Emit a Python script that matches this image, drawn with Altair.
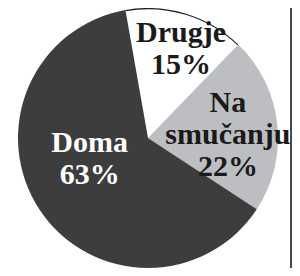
import math
import altair as alt
import pandas as pd

# ---- data ----
categories = ["Drugje", "Na smučanju", "Doma"]
shares = [15, 22, 63]

# ---- style / layout ----
fills = ["#ffffff", "#bdbec1", "#3d3d3d"]
text_colors = ["#1a1a1a", "#1a1a1a", "#ffffff"]
W, H = 284, 260
CX, CY = 140, 130
R = 130
START = math.radians(-10)
label_shift_deg = {"Drugje": 2.0, "Na smučanju": -11.6, "Doma": 19.8}
label_radius = {"Drugje": 101.5, "Na smučanju": 84, "Doma": 60}

labels = ["\n".join(c.split(" ") + [f"{s}%"]) for c, s in zip(categories, shares)]
df = pd.DataFrame({"cat": categories, "share": shares,
                   "idx": list(range(len(categories))), "label": labels})


def cat_expr(mapping, default=0):
    expr = str(default)
    for k, v in mapping.items():
        expr = f"(datum.cat === '{k}' ? {v} : {expr})"
    return expr


shift_expr = cat_expr({k: math.radians(v) for k, v in label_shift_deg.items()})
radius_expr = cat_expr(label_radius)

theta_scale = alt.Scale(range=[START, START + 2 * math.pi])

base = alt.Chart(df)

pie = base.mark_arc(radius=R).encode(
    theta=alt.Theta("share:Q", stack=True, scale=theta_scale),
    order=alt.Order("idx:Q"),
    color=alt.Color("cat:N", scale=alt.Scale(domain=categories, range=fills), legend=None),
    x=alt.value(CX),
    y=alt.value(CY),
)

rim = base.mark_arc(radius=R, radius2=R - 1.2).encode(
    theta=alt.Theta("share:Q", stack=True, scale=theta_scale),
    order=alt.Order("idx:Q"),
    color=alt.condition("datum.cat === 'Drugje'", alt.value("#222222"), alt.value("transparent")),
    x=alt.value(CX),
    y=alt.value(CY),
)

text = (
    base.transform_window(cum="sum(share)", sort=[alt.SortField("idx")], frame=[None, 0])
    .transform_joinaggregate(total="sum(share)")
    .transform_calculate(
        labA=f"{START} + 2*PI*(datum.cum - datum.share/2)/datum.total + {shift_expr}",
        labR=radius_expr,
    )
    .mark_text(font="Liberation Serif", fontSize=30, fontWeight="bold",
               lineBreak="\n", lineHeight=32, baseline="alphabetic", align="center")
    .encode(
        theta=alt.Theta("labA:Q", scale=None, stack=False),
        radius=alt.Radius("labR:Q", scale=None),
        text="label:N",
        color=alt.Color("cat:N", scale=alt.Scale(domain=categories, range=text_colors), legend=None),
        x=alt.value(CX),
        y=alt.value(CY),
    )
)

frame = alt.Chart(pd.DataFrame({"a": [0]})).mark_rule(color="#4a4a4a", strokeWidth=2).encode(
    x=alt.value(W - 1), y=alt.value(0), y2=alt.value(H)
)

chart = (
    alt.layer(pie, rim, text, frame)
    .resolve_scale(color="independent", theta="independent", radius="independent")
    .properties(width=W, height=H, padding=0, autosize="none", background="white")
    .configure_view(stroke=None)
)

chart.save("out.html", embed_options={"renderer": "svg", "actions": False})
